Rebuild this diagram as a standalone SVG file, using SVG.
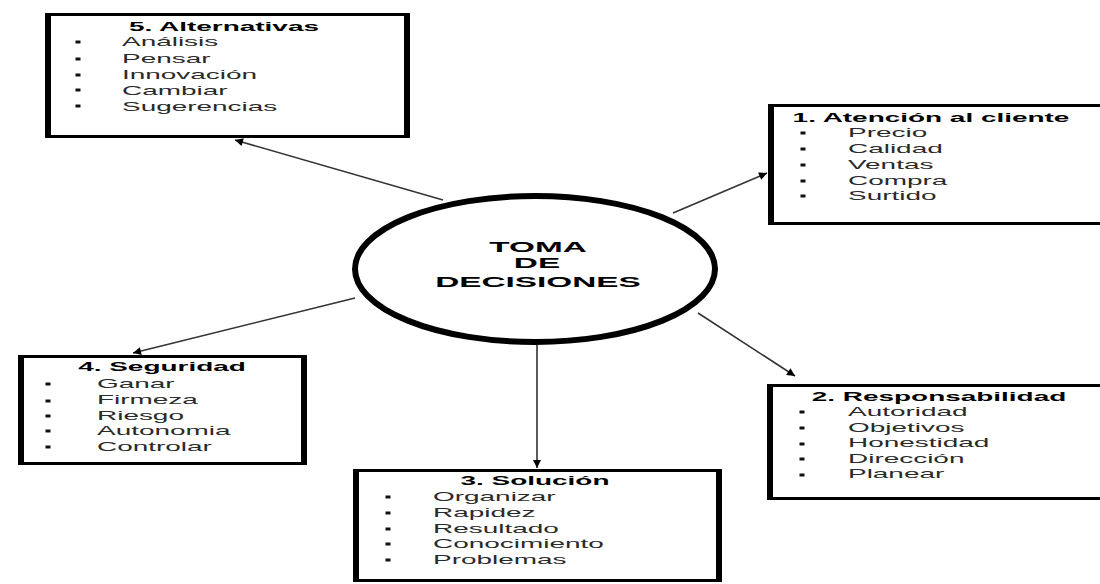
<svg xmlns="http://www.w3.org/2000/svg" width="1100" height="584" viewBox="0 0 1100 584">
<style>
text{font-family:"Liberation Sans",Arial,sans-serif;fill:#2a2a2a}
.t{font-size:13px;font-weight:bold;text-anchor:middle;fill:#000}
.i{font-size:13px}
.c{font-size:14.5px;font-weight:bold;text-anchor:middle;fill:#000}
.box{fill:#fff;stroke:#000;stroke-width:3}
.side{stroke:#000;stroke-width:6;fill:none}
.b{fill:#111}
.con{stroke:#333;stroke-width:1.6;fill:none;marker-end:url(#ah)}
</style>
<defs>
<marker id="ah" viewBox="0 0 10 10" refX="10" refY="5" markerWidth="9" markerHeight="8" markerUnits="userSpaceOnUse" orient="auto">
<path d="M0,0 L10,5 L0,10 z" fill="#000"/>
</marker>
<rect id="bl" x="-2.5" y="-1.5" width="5" height="3"/>
</defs>
<rect width="1100" height="584" fill="#fff"/>

<g id="connectors">
<line class="con" x1="443" y1="200" x2="235" y2="140"/>
<line class="con" x1="673" y1="213" x2="767" y2="173"/>
<line class="con" x1="355" y1="298" x2="133" y2="353"/>
<line class="con" x1="698" y1="313" x2="795" y2="376"/>
<line class="con" x1="537" y1="345" x2="537" y2="468"/>
</g>

<g id="center">
<ellipse cx="535" cy="269" rx="180" ry="73" fill="#fff" stroke="#000" stroke-width="6"/>
<text class="c" transform="translate(538,252) scale(2.3,1)">TOMA</text>
<text class="c" transform="translate(537,268) scale(2.3,1)">DE</text>
<text class="c" transform="translate(538,287) scale(2.3,1)">DECISIONES</text>
</g>

<g id="node5">
<rect class="box" x="46.5" y="14.5" width="362" height="122"/>
<path class="side" d="M48,13V138M407,13V138"/>
<text class="t" transform="translate(224,31) scale(2.15,1)">5. Alternativas</text>
<g class="b"><use href="#bl" x="78" y="42"/><use href="#bl" x="78" y="59"/><use href="#bl" x="78" y="75"/><use href="#bl" x="78" y="90"/><use href="#bl" x="78" y="106"/></g>
<text class="i" transform="translate(122,46) scale(2.15,1)">Análisis</text>
<text class="i" transform="translate(122,63) scale(2.15,1)">Pensar</text>
<text class="i" transform="translate(122,79) scale(2.15,1)">Innovación</text>
<text class="i" transform="translate(122,95) scale(2.15,1)">Cambiar</text>
<text class="i" transform="translate(122,111) scale(2.15,1)">Sugerencias</text>
</g>

<g id="node1">
<rect class="box" x="769.5" y="105.5" width="335" height="118"/>
<path class="side" d="M771,104V225"/>
<text class="t" transform="translate(931,122) scale(2.15,1)">1. Atención al cliente</text>
<g class="b"><use href="#bl" x="803" y="133"/><use href="#bl" x="803" y="149"/><use href="#bl" x="803" y="165"/><use href="#bl" x="803" y="181"/><use href="#bl" x="803" y="196"/></g>
<text class="i" transform="translate(848,137) scale(2.15,1)">Precio</text>
<text class="i" transform="translate(848,153) scale(2.15,1)">Calidad</text>
<text class="i" transform="translate(848,169) scale(2.15,1)">Ventas</text>
<text class="i" transform="translate(848,185) scale(2.15,1)">Compra</text>
<text class="i" transform="translate(848,200) scale(2.15,1)">Surtido</text>
</g>

<g id="node4">
<rect class="box" x="19.5" y="356.5" width="286" height="107"/>
<path class="side" d="M21,355V465M304,355V465"/>
<text class="t" transform="translate(162,371) scale(2.15,1)">4. Seguridad</text>
<g class="b"><use href="#bl" x="48" y="384"/><use href="#bl" x="48" y="401"/><use href="#bl" x="48" y="416"/><use href="#bl" x="48" y="431"/><use href="#bl" x="48" y="447"/></g>
<text class="i" transform="translate(97,388) scale(2.15,1)">Ganar</text>
<text class="i" transform="translate(97,404) scale(2.15,1)">Firmeza</text>
<text class="i" transform="translate(97,420) scale(2.15,1)">Riesgo</text>
<text class="i" transform="translate(97,435) scale(2.15,1)">Autonomia</text>
<text class="i" transform="translate(97,451) scale(2.15,1)">Controlar</text>
</g>

<g id="node2">
<rect class="box" x="768.5" y="385.5" width="336" height="113"/>
<path class="side" d="M770,384V500"/>
<text class="t" transform="translate(939,401) scale(2.15,1)">2. Responsabilidad</text>
<g class="b"><use href="#bl" x="802" y="412"/><use href="#bl" x="802" y="428"/><use href="#bl" x="802" y="444"/><use href="#bl" x="802" y="459"/><use href="#bl" x="802" y="475"/></g>
<text class="i" transform="translate(848,416) scale(2.15,1)">Autoridad</text>
<text class="i" transform="translate(848,432) scale(2.15,1)">Objetivos</text>
<text class="i" transform="translate(848,447) scale(2.15,1)">Honestidad</text>
<text class="i" transform="translate(848,463) scale(2.15,1)">Dirección</text>
<text class="i" transform="translate(848,478) scale(2.15,1)">Planear</text>
</g>

<g id="node3">
<rect class="box" x="354.5" y="470.5" width="366" height="110"/>
<path class="side" d="M356,469V582M719,469V582"/>
<text class="t" transform="translate(535,485) scale(2.15,1)">3. Solución</text>
<g class="b"><use href="#bl" x="388" y="497"/><use href="#bl" x="388" y="513"/><use href="#bl" x="388" y="529"/><use href="#bl" x="388" y="544"/><use href="#bl" x="388" y="560"/></g>
<text class="i" transform="translate(433,501) scale(2.15,1)">Organizar</text>
<text class="i" transform="translate(433,517) scale(2.15,1)">Rapidez</text>
<text class="i" transform="translate(433,533) scale(2.15,1)">Resultado</text>
<text class="i" transform="translate(433,548) scale(2.15,1)">Conocimiento</text>
<text class="i" transform="translate(433,564) scale(2.15,1)">Problemas</text>
</g>
</svg>
